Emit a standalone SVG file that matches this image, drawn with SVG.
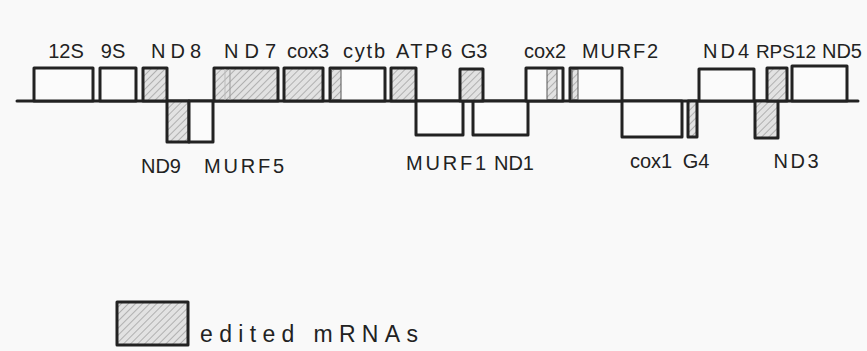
<svg xmlns="http://www.w3.org/2000/svg" width="867" height="351" viewBox="0 0 867 351">
<defs>
<pattern id="hatch" patternUnits="userSpaceOnUse" width="5" height="5" patternTransform="rotate(45)">
<rect width="5" height="5" fill="#e2e2e2"/>
<line x1="0" y1="0" x2="0" y2="5" stroke="#8e8e8e" stroke-width="1.2"/>
</pattern>
</defs>
<style>
.box{fill:#fbfbfb;stroke:#222;stroke-width:3;stroke-linejoin:round}
.ed{fill:url(#hatch)}
.strip{fill:url(#hatch);stroke:#555;stroke-width:1}
.lbl{font-family:"Liberation Sans","DejaVu Sans",sans-serif;font-size:20px;fill:#222;text-anchor:middle}
.leg{font-family:"Liberation Sans","DejaVu Sans",sans-serif;font-size:23px;fill:#222}
</style>
<rect width="867" height="351" fill="#f9f9f9"/>
<g id="connectors">
<line x1="17" y1="101" x2="858" y2="101" stroke="#222" stroke-width="3" stroke-linecap="round"/>
</g>
<g id="n12S"><rect class="box" x="34" y="68" width="59" height="33"/><text class="lbl" x="66" y="58">12S</text></g>
<g id="n9S"><rect class="box" x="100" y="68" width="36" height="33"/><text class="lbl" x="113" y="58">9S</text></g>
<g id="nND8"><rect class="box ed" x="143" y="68" width="24" height="33"/><text class="lbl" x="176" y="58" textLength="50" lengthAdjust="spacing">ND8</text></g>
<g id="nND9"><rect class="box ed" x="167" y="101" width="22" height="41"/><text class="lbl" x="161" y="173">ND9</text></g>
<g id="nMURF5"><rect class="box" x="189" y="101" width="24" height="41"/><text class="lbl" x="244" y="173" textLength="80" lengthAdjust="spacing">MURF5</text></g>
<g id="nND7"><rect class="box ed" x="214" y="68" width="64" height="33"/><line x1="225" y1="69" x2="225" y2="100" stroke="#bbb" stroke-width="1"/><line x1="230" y1="69" x2="230" y2="100" stroke="#999" stroke-width="1"/><text class="lbl" x="250" y="58" textLength="52" lengthAdjust="spacing">ND7</text></g>
<g id="ncox3"><rect class="box ed" x="284" y="68" width="39" height="33"/><text class="lbl" x="308" y="58">cox3</text></g>
<g id="ncytb"><rect class="box" x="330" y="68" width="55" height="33"/><rect class="strip" x="331.5" y="69.5" width="9.5" height="30"/><text class="lbl" x="364" y="58" textLength="42" lengthAdjust="spacing">cytb</text></g>
<g id="nATP6"><rect class="box ed" x="391" y="68" width="25" height="33"/><text class="lbl" x="424" y="58" textLength="56" lengthAdjust="spacing">ATP6</text></g>
<g id="nMURF1"><rect class="box" x="416" y="101" width="47" height="34"/><text class="lbl" x="446" y="170" textLength="80" lengthAdjust="spacing">MURF1</text></g>
<g id="nND1"><rect class="box" x="473" y="101" width="55" height="34"/><text class="lbl" x="514" y="170">ND1</text></g>
<g id="nG3"><rect class="box ed" x="460" y="69" width="23" height="32"/><text class="lbl" x="474" y="58">G3</text></g>
<g id="ncox2"><rect class="box" x="526" y="68" width="37" height="33"/><rect class="strip" x="547" y="69.5" width="10" height="30"/><text class="lbl" x="545" y="58">cox2</text></g>
<g id="nMURF2"><rect class="box" x="570" y="68" width="52" height="33"/><rect class="strip" x="572" y="69.5" width="6" height="30"/><text class="lbl" x="620" y="58" textLength="76" lengthAdjust="spacing">MURF2</text></g>
<g id="ncox1"><rect class="box" x="622" y="101" width="60" height="36"/><text class="lbl" x="651" y="168">cox1</text></g>
<g id="nG4"><rect class="box ed" x="688" y="101" width="9" height="36"/><text class="lbl" x="696" y="168">G4</text></g>
<g id="nND4"><rect class="box" x="699" y="69" width="55" height="32"/><text class="lbl" x="726" y="58" textLength="46" lengthAdjust="spacing">ND4</text></g>
<g id="nND3"><rect class="box ed" x="755" y="101" width="23" height="37"/><text class="lbl" x="796" y="168" textLength="45" lengthAdjust="spacing">ND3</text></g>
<g id="nRPS12"><rect class="box ed" x="767" y="68" width="20" height="33"/><text class="lbl" x="786" y="58" style="font-size:19px">RPS12</text></g>
<g id="nND5"><rect class="box" x="792" y="66" width="55" height="35"/><text class="lbl" x="842" y="58">ND5</text></g>
<g id="legend"><rect class="box ed" x="117" y="302" width="71" height="43" stroke-width="4"/><text class="leg" x="200" y="342" textLength="218" lengthAdjust="spacing">edited mRNAs</text></g>
</svg>
